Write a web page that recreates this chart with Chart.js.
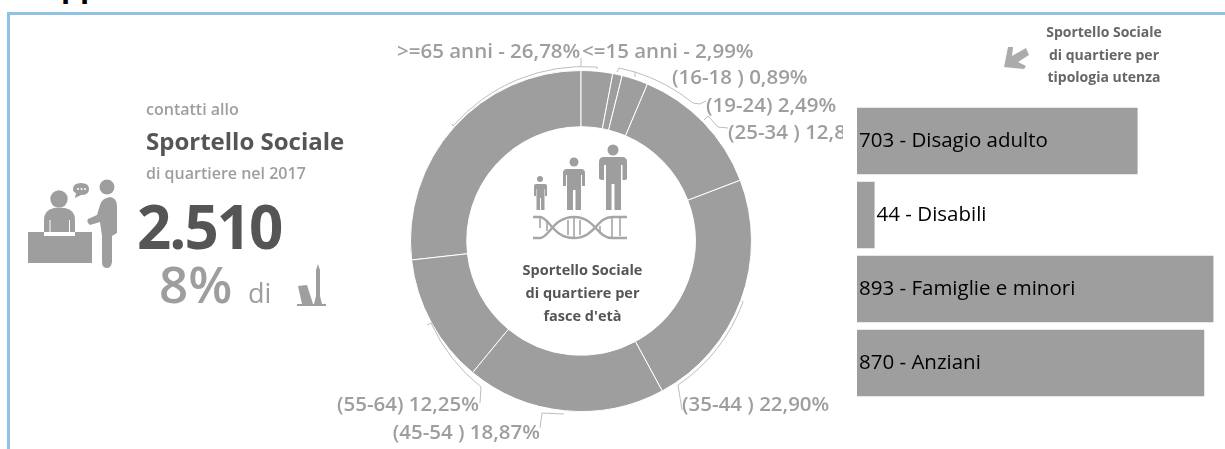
<!DOCTYPE html>
<html><head><meta charset="utf-8">
<style>
html,body{margin:0;padding:0;background:#fff;width:1225px;height:449px;overflow:hidden;position:relative}
body{font-family:"Open Sans","Noto Sans",sans-serif}
.t{position:absolute;white-space:nowrap;line-height:1;color:#9e9e9e;font-weight:600}
.frame{position:absolute;left:7px;top:12px;width:1218px;height:437px;border-left:3px solid #8fc3e6;border-top:3px solid #8fc3e6;box-sizing:border-box}
canvas{display:block}
#dw{position:absolute;left:330px;top:40px;width:513px;height:409px}
#bw{position:absolute;left:857px;top:104px;width:368px;height:296px}
svg.o{position:absolute;left:0;top:0}
</style></head><body>
<div class="t" style="left:61px;top:-29px;font-size:30px;font-weight:700;color:#000;">pp</div>
<div class="frame"></div>
<div id="dw"><canvas id="d" width="513" height="409"></canvas></div>
<div id="bw"><canvas id="b" width="368" height="296"></canvas></div>
<svg class="o" width="1225" height="449" viewBox="0 0 1225 449">
<g fill="none" stroke="#bdbdbd" stroke-width="1">
<path d="M452 124 L453 126 A174 174 0 0 1 597 67 L597 69"/><path d="M581 58 V66"/>
<path d="M617 72 L619 68 L635 72 L635 77"/>
<path d="M635 72 A174 174 0 0 1 693 103 L700 104 L706 101"/>
<path d="M704 120 L708 116 L718 127 L728 128"/>
<path d="M742 301 L743 302 A174 174 0 0 1 678 385 L682 410"/>
<path d="M427 325 L431 323 A174 174 0 0 0 481 387 L480 403"/>
<path d="M564 414 L542 413 L540 428"/>
</g>
<!-- arrow -->
<path d="M1004 67 L1008 47 L1013 47 L1012 56 L1026 48 L1029 55 L1018 62 L1026 66 L1024 69 Z" fill="#ababab"/>
<!-- desk and people -->
<g fill="#9e9e9e">
<rect x="28" y="232" width="64" height="31"/>
<circle cx="59" cy="199" r="8.7"/>
<path d="M44 232 V220 Q44 210 54 208 H65 Q75 210 75 220 V232 Z"/>
<circle cx="107" cy="187" r="7.5"/>
<path d="M100 205 Q102 198 110 197 Q117 198 117 206 V233 L112 236 V262 Q111 268 107 268 Q102 268 102 262 V236 L100 222 L90 225 Q86 222 88 219 L97 215 Z"/>
<path d="M73 189 Q73 183 81 183 Q89 183 89 189 Q89 195 81 195 L75 198 L76 193 Q73 192 73 189 Z"/>
</g>
<g fill="#fff"><circle cx="78" cy="189" r="1"/><circle cx="81.5" cy="189" r="1"/><circle cx="85" cy="189" r="1"/>
<rect x="44" y="232" width="31" height="4"/><rect x="49.5" y="220" width="1" height="14"/><rect x="69" y="220" width="1" height="14"/></g>
<!-- towers -->
<g fill="#9e9e9e">
<path d="M298 286 L307 285 L313 304 H302 Z"/>
<path d="M297 304 H326 V306 H297 Z"/>
<path d="M314 304 L316 296 V270 L318 264 L320 270 V296 L322 304 Z"/>
</g>
<!-- three figures -->
<g fill="#9e9e9e">
<circle cx="540" cy="179" r="3"/>
<path d="M534 186 Q534 184 536 184 H545 Q547 184 547 186 V196 H545 V189 H544.5 V210 H541 V198 H540 V210 H536.5 V189 H536 V196 H534 Z"/>
<circle cx="574" cy="162" r="4.5"/>
<path d="M563 173 Q563 169 567 169 H581 Q585 169 585 173 V186 H582 V175 H581 V210 H575.5 V190 H573 V210 H567 V175 H566 V186 H563 Z"/>
<circle cx="613" cy="150" r="5.5"/>
<path d="M599 162 Q599 157 604 157 H622 Q627 157 627 162 V178 Q627 180 624 180 H622.5 V165 H621 V210 H614.5 V184 H611.5 V210 H606 V165 H604 V180 Q599 180 599 178 Z"/>
</g>
<g fill="none" stroke="#a6a6a6" stroke-width="2.4">
<path d="M533 217 H540 C549 217 553 238 574 238 C595 238 597 217 612 217 H627"/>
<path d="M533 238 H540 C549 238 553 217 574 217 C595 217 597 238 612 238 H627"/>
<path d="M540 218 V228 M547 220 V231 M568 220 V235 M574 218 V237 M580 220 V235 M600 226 V234 M612 218 V237 M620 218 V236" stroke-width="1.6"/>
</g>
</svg>
<div class="t" style="left:146px;top:101px;font-size:16px">contatti allo</div>
<div class="t" style="left:146px;top:129px;font-size:24px;font-weight:700;color:#555">Sportello Sociale</div>
<div class="t" style="left:146px;top:165px;font-size:16px">di quartiere nel 2017</div>
<div class="t" style="left:137px;top:196px;font-size:60px;font-weight:700;color:#555;letter-spacing:-2px">2.510</div>
<div class="t" style="left:159px;top:258px;font-size:51px">8%</div>
<div class="t" style="left:248px;top:279px;font-size:27px;font-weight:400">di</div>
<div class="t" style="left:1043px;top:21px;width:122px;text-align:center;font-size:14px;line-height:22.5px;color:#666;white-space:normal;font-weight:700">Sportello Sociale<br>di quartiere per<br>tipologia utenza</div>
<div class="t" style="left:520px;top:258px;width:125px;text-align:center;font-size:14.5px;line-height:23px;color:#555;white-space:normal;font-weight:700">Sportello Sociale<br>di quartiere per<br>fasce d'età</div>
<script src="https://cdn.jsdelivr.net/npm/chart.js@4"></script>
<script>
const ageGroups = [">=65", "<=15", "(16-18)", "(19-24)", "(25-34)", "(35-44)", "(45-54)", "(55-64)"];
const agePercent = [26.78, 2.99, 0.89, 2.49, 12.83, 22.90, 18.87, 12.25];
const ageLabels = [">=65 anni - 26,78%", "<=15 anni - 2,99%", "(16-18 ) 0,89%", "(19-24) 2,49%", "(25-34 ) 12,83%", "(35-44 ) 22,90%", "(45-54 ) 18,87%", "(55-64) 12,25%"];
const userTypes = ["Disagio adulto", "Disabili", "Famiglie e minori", "Anziani"];
const userCounts = [703, 44, 893, 870];
const GREY = "#9e9e9e";
Chart.defaults.animation = false;
Chart.defaults.font.family = '"Open Sans","Noto Sans",sans-serif';

const labelAnchor = [[397,52,"left"],[582,52,"left"],[672,78,"left"],[706,106,"left"],[728,133,"left"],[682,405,"left"],[540,433,"right"],[479,405,"right"]];
const ageLabelPlugin = {id:"ageLabels", afterDraw(c){
  const x=c.ctx; x.save(); x.font='600 20.5px "Open Sans"'; x.fillStyle=GREY; x.textBaseline="middle";
  ageLabels.forEach((s,i)=>{ const p=labelAnchor[i]; x.textAlign=p[2]; x.fillText(s,p[0]-330,p[1]-40);});
  x.restore();
}};
new Chart(document.getElementById("d"),{type:"doughnut",
  data:{labels:ageGroups,datasets:[{data:agePercent,backgroundColor:GREY,borderColor:"#fff",borderWidth:1}]},
  options:{responsive:false,cutout:"67%",rotation:-(agePercent[0]/100*360),
    layout:{padding:{left:80,right:91,top:30,bottom:37}},plugins:{legend:{display:false},tooltip:{enabled:false}}},
  plugins:[ageLabelPlugin]});
const barLabelPlugin = {id:"barLabels", afterDatasetsDraw(c){
  const x=c.ctx; x.save(); x.font='500 20.5px "Open Sans"'; x.fillStyle="#000"; x.textBaseline="middle";
  c.getDatasetMeta(0).data.forEach((el,i)=>{
    const tx = i===1 ? el.x+2 : 2;
    x.fillText(userCounts[i]+" - "+userTypes[i],tx,el.y);
  }); x.restore();
}};
new Chart(document.getElementById("b"),{type:"bar",
  data:{labels:userTypes,datasets:[{data:userCounts,backgroundColor:GREY,barPercentage:.9,categoryPercentage:1}]},
  options:{indexAxis:"y",responsive:false,layout:{padding:0},
    scales:{x:{display:false,min:0,max:922},y:{display:false}},
    plugins:{legend:{display:false},tooltip:{enabled:false}}},
  plugins:[barLabelPlugin]});
</script>
</body></html>
